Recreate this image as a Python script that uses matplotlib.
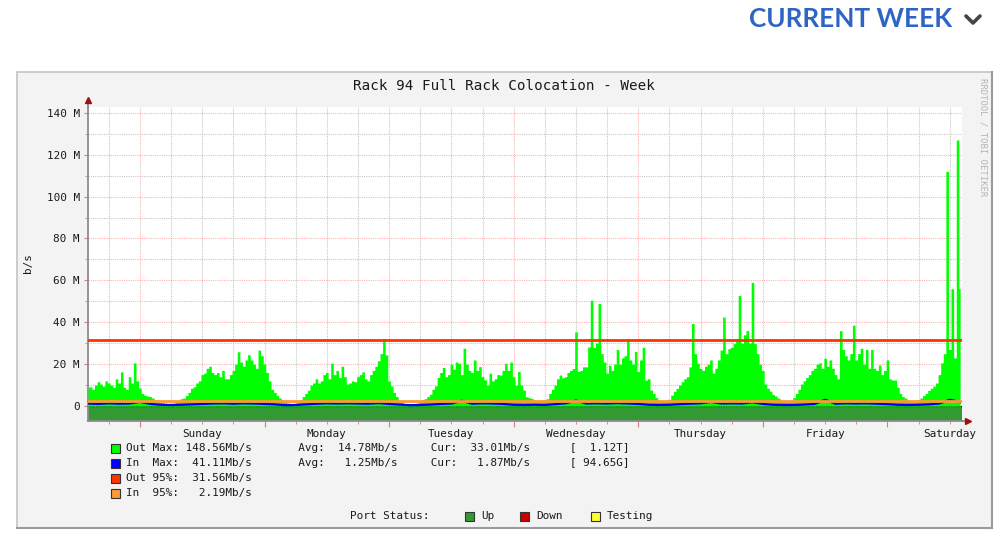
import matplotlib
matplotlib.use('Agg')
import matplotlib.pyplot as plt
from matplotlib.patches import Rectangle
from matplotlib.lines import Line2D
import numpy as np

# ---------------- data ----------------
SAMPLE_STEP_H = 0.5          # hours between "Out" samples
IN_STEP_H = 2.0              # hours between "In" samples
FIRST_MIDNIGHT_H = 10        # graph starts Saturday 14:00

out_mbps = [
    9, 9.2, 8, 10, 11.6, 10.5, 9.5, 12, 11, 10,
    9, 13, 11, 16.3, 9, 8, 14, 11, 20.6, 12,
    8.6, 6, 5.2, 4.8, 4.5, 3.8, 3, 2, 1.7, 1.5,
    1.3, 1.2, 1.2, 1.3, 2, 2.5, 3.5, 3.8, 5, 6.5,
    8.5, 9.2, 11, 12, 15, 15.7, 18, 19,
    16, 15, 16, 14, 17, 13, 13, 15, 17, 20,
    25.9, 21, 19, 22, 24.5, 22, 20, 18, 26.7, 24,
    20, 16, 12, 8, 6.5, 5, 3.8, 3, 2, 1.5,
    1.3, 1.2, 1.3, 1.8, 3, 4.5, 6, 7.5, 10, 11,
    13, 11, 12, 15, 16, 13, 20.5, 15,
    17, 13.6, 19, 14, 10.5, 11, 12, 11.6, 14, 15,
    16.3, 13, 12, 15, 17, 19, 21.6, 25, 32.3, 24.4,
    12, 9.6, 6.5, 4.5, 2.5, 1.8, 1.2, 1, 1, 1,
    1, 1.5, 2.5, 3, 3.5, 4.5, 5.6, 8, 9.6, 13.6,
    16, 18.4, 14, 15, 20, 17.6, 21, 20.4,
    15, 27.6, 20, 17, 16, 22, 17, 18.8, 14, 12.5,
    10, 15.7, 12, 13, 15, 14.8, 17, 20.4, 17, 21,
    14, 10, 16.5, 10, 7.6, 4.4, 4, 3.6, 3, 2,
    2.5, 2.8, 3, 3.5, 6, 8, 10, 13, 14.8, 13.5,
    14, 16, 17, 17.9, 35.4, 16.5, 17, 18.7,
    18.7, 28.2, 50.5, 28, 30, 49, 25, 21, 15.7, 19.5,
    17, 20, 27, 20, 23, 24, 32, 22, 20, 26,
    16.5, 22, 28, 12.4, 13, 7.6, 6, 4, 2.8, 2.5,
    2.4, 2.6, 3.2, 5.2, 7, 8.4, 10, 11.6, 13, 14,
    18.7, 39.4, 25, 20.4, 18, 17, 19, 20,
    22, 15.7, 18, 22, 26.7, 42.5, 25, 27.4, 28, 29.8,
    32, 52.8, 30, 34, 36, 30, 59, 29.8, 25, 20,
    17, 10.5, 8.5, 7.1, 5.5, 4.8, 3.8, 3.2, 2.5, 2,
    1.9, 2.5, 4, 6, 8, 10.5, 12, 13.6, 15, 17,
    18, 20, 20.6, 18, 22.8, 19, 22, 18,
    15, 13, 36, 27, 24, 22, 25, 38.6, 22, 25,
    27.6, 20, 27, 18, 27, 18, 17, 19.6, 15, 17,
    22, 13, 12.4, 12.4, 9, 6, 4.5, 3.8, 2.8, 2.2,
    1.8, 1.7, 2.5, 3.8, 5, 6, 7.5, 8.5, 9.5, 11,
    15, 20.6, 25, 112, 27, 56, 23, 127, 56,
]

in_mbps = [
    1.2, 1.0, 1.3, 1.1, 1.2, 2.0, 1.0, 0.6, 0.5, 0.6,
    0.8, 1.0, 1.2, 1.3, 1.1, 1.3, 1.2, 1.0, 0.8, 0.4,
    0.5, 0.8, 1.1, 1.3, 1.2, 1.3, 1.2, 1.1, 1.4, 1.0,
    0.7, 0.4, 0.5, 0.7, 1.0, 1.2, 2.5, 1.1, 1.3, 1.2,
    1.0, 0.6, 0.5, 0.6, 0.5, 0.9, 1.3, 2.6, 1.2, 1.3,
    1.2, 1.4, 1.2, 1.0, 0.6, 0.5, 0.6, 0.9, 1.1, 1.3,
    2.0, 1.2, 1.3, 1.2, 1.8, 1.0, 0.6, 0.5, 0.5, 0.7,
    1.0, 3.0, 1.1, 1.3, 1.2, 1.3, 1.1, 0.9, 0.6, 0.5,
    0.6, 0.8, 1.2, 3.0, 1.9,
]

out_p95 = 31.56
in_p95 = 2.19

day_names = ['Sunday', 'Monday', 'Tuesday', 'Wednesday',
             'Thursday', 'Friday', 'Saturday']
ytick_values = [0, 20, 40, 60, 80, 100, 120, 140]
ytick_labels = ['0', '20 M', '40 M', '60 M', '80 M', '100 M', '120 M', '140 M']

title = 'Rack 94 Full Rack Colocation - Week'
legend_rows = [
    ('#00ff00', 'Out Max: 148.56Mb/s       Avg:  14.78Mb/s     Cur:  33.01Mb/s      [  1.12T]'),
    ('#0000ff', 'In  Max:  41.11Mb/s       Avg:   1.25Mb/s     Cur:   1.87Mb/s      [ 94.65G]'),
    ('#ff3300', 'Out 95%:  31.56Mb/s'),
    ('#ff9933', 'In  95%:   2.19Mb/s'),
]
status_items = [('#339933', 'Up'), ('#cc0000', 'Down'), ('#ffff33', 'Testing')]

# ---------------- figure ----------------
W, H = 1000, 560
plt.rcParams['font.family'] = ['DejaVu Sans Mono']
fig = plt.figure(figsize=(W / 100, H / 100), dpi=100)
fig.patch.set_facecolor('white')

def fx(x):
    return x / W

def fy(y):
    return 1 - y / H

# panel
panel = Rectangle((fx(17), fy(528)), (992 - 17) / W, (528 - 72) / H,
                  transform=fig.transFigure, facecolor='#f3f3f3',
                  edgecolor='#c4c4c4', lw=1.2, zorder=-5)
fig.add_artist(panel)
fig.add_artist(Line2D([fx(992), fx(992)], [fy(72), fy(528)], color='#9a9a9a', lw=1.5, zorder=-4))
fig.add_artist(Line2D([fx(17), fx(992)], [fy(528), fy(528)], color='#9a9a9a', lw=1.5, zorder=-4))

# header
fig.text(fx(952), fy(19), 'CURRENT WEEK', family=['Lato', 'DejaVu Sans'], fontweight='bold',
         fontsize=18.8, color='#2e64c4', ha='right', va='center')
fig.add_artist(Line2D([fx(966), fx(973), fx(980)], [fy(16), fy(23), fy(16)],
                      color='#444444', lw=2.6, solid_capstyle='round', solid_joinstyle='round'))

# axes
y_bottom, y_top = -7.0, 142.9
n_out = len(out_mbps)
t_out = np.arange(n_out) * SAMPLE_STEP_H
t_in = np.arange(len(in_mbps)) * IN_STEP_H
x_end = t_out[-1] + 0.3

ax = fig.add_axes([fx(88), fy(420.7), (961.7 - 88) / W, (420.7 - 106.7) / H])
ax.set_facecolor('white')
ax.set_xlim(0, x_end)
ax.set_ylim(y_bottom, y_top)

# port status band
ax.fill_between([0, x_end], y_bottom, 0, color=status_items[0][0], lw=0, zorder=2)
ax.axhline(0, color='#222222', lw=0.9, ls=(0, (1, 1)), zorder=2.5)

ax.fill_between(t_out, 0, out_mbps, step='mid', color='#00ff00', lw=0, zorder=3)
ax.plot(t_in, in_mbps, color='#0000ff', lw=1.6, zorder=4)
ax.axhline(out_p95, color='#ff3300', lw=2.0, zorder=5)
ax.axhline(in_p95, color='#ff9933', lw=2.0, zorder=5)

# ticks and grid
midnights = np.arange(FIRST_MIDNIGHT_H, x_end, 24)
six_hours = np.arange(FIRST_MIDNIGHT_H - 6, x_end, 6)
noons = FIRST_MIDNIGHT_H + 12 + 24 * np.arange(len(day_names))
ax.set_xticks(midnights)
ax.set_xticklabels([''] * len(midnights))
minor_labels = []
for h in six_hours:
    idx = np.where(np.isclose(noons, h))[0]
    minor_labels.append(day_names[idx[0]] if len(idx) else '')
ax.set_xticks(six_hours, minor=True)
ax.set_xticklabels(minor_labels, minor=True)

ax.set_yticks(ytick_values)
ax.set_yticklabels(ytick_labels)
ax.set_yticks(np.arange(10, 140, 20), minor=True)

ax.set_axisbelow(True)
ax.grid(which='major', color='#ff0000', alpha=0.3, ls=(0, (1, 1)), lw=0.8, zorder=0)
ax.grid(which='minor', color='#b0b0b0', alpha=0.7, ls=(0, (1, 1)), lw=0.8, zorder=0)

ax.tick_params(axis='both', which='both', direction='out', color='#d08080',
               labelcolor='#1a1a1a', labelsize=7.9)
ax.tick_params(axis='y', which='major', length=3, pad=3)
ax.tick_params(axis='y', which='minor', length=2)
ax.tick_params(axis='x', which='major', length=4)
ax.tick_params(axis='x', which='minor', length=2, pad=4)

for s in ('top', 'right'):
    ax.spines[s].set_visible(False)
for s in ('left', 'bottom'):
    ax.spines[s].set_color('#8c8c8c')
    ax.spines[s].set_linewidth(1.3)

# axis arrows
ax.plot([0, 0], [1, 1.012], transform=ax.transAxes, color='#8c8c8c', lw=1.3, clip_on=False)
ax.plot([0], [1.02], marker='^', ms=5, color='#a01010', transform=ax.transAxes, clip_on=False)
ax.plot([1, 1.004], [0, 0], transform=ax.transAxes, color='#8c8c8c', lw=1.3, clip_on=False)
ax.plot([1.007], [0], marker='>', ms=5, color='#a01010', transform=ax.transAxes, clip_on=False)

# labels
fig.text(fx(504), fy(86), title, fontsize=10.3, color='#1a1a1a', ha='center', va='center')
fig.text(fx(28), fy(263), 'b/s', rotation=90, fontsize=7.9, color='#1a1a1a', ha='center', va='center')
fig.text(fx(983), fy(137), 'RRDTOOL / TOBI OETIKER', rotation=270, fontsize=6.4,
         color='#b4b4b4', ha='center', va='center')

# legend
row_y = [448, 463, 478, 493]
for (col, txt), y in zip(legend_rows, row_y):
    fig.add_artist(Rectangle((fx(111), fy(y + 4.5)), 9 / W, 9 / H, transform=fig.transFigure,
                             facecolor=col, edgecolor='#333333', lw=0.8))
    fig.text(fx(126), fy(y), txt, fontsize=7.9, color='#1a1a1a', ha='left', va='center')

fig.text(fx(350), fy(516), 'Port Status:', fontsize=7.9, color='#1a1a1a', ha='left', va='center')
status_x = [465, 520, 591]
for (col, name), x in zip(status_items, status_x):
    fig.add_artist(Rectangle((fx(x), fy(516 + 4.5)), 9 / W, 9 / H, transform=fig.transFigure,
                             facecolor=col, edgecolor='#333333', lw=0.8))
    fig.text(fx(x + 16), fy(516), name, fontsize=7.9, color='#1a1a1a', ha='left', va='center')

fig.savefig('out.png', dpi=100, facecolor='white')
